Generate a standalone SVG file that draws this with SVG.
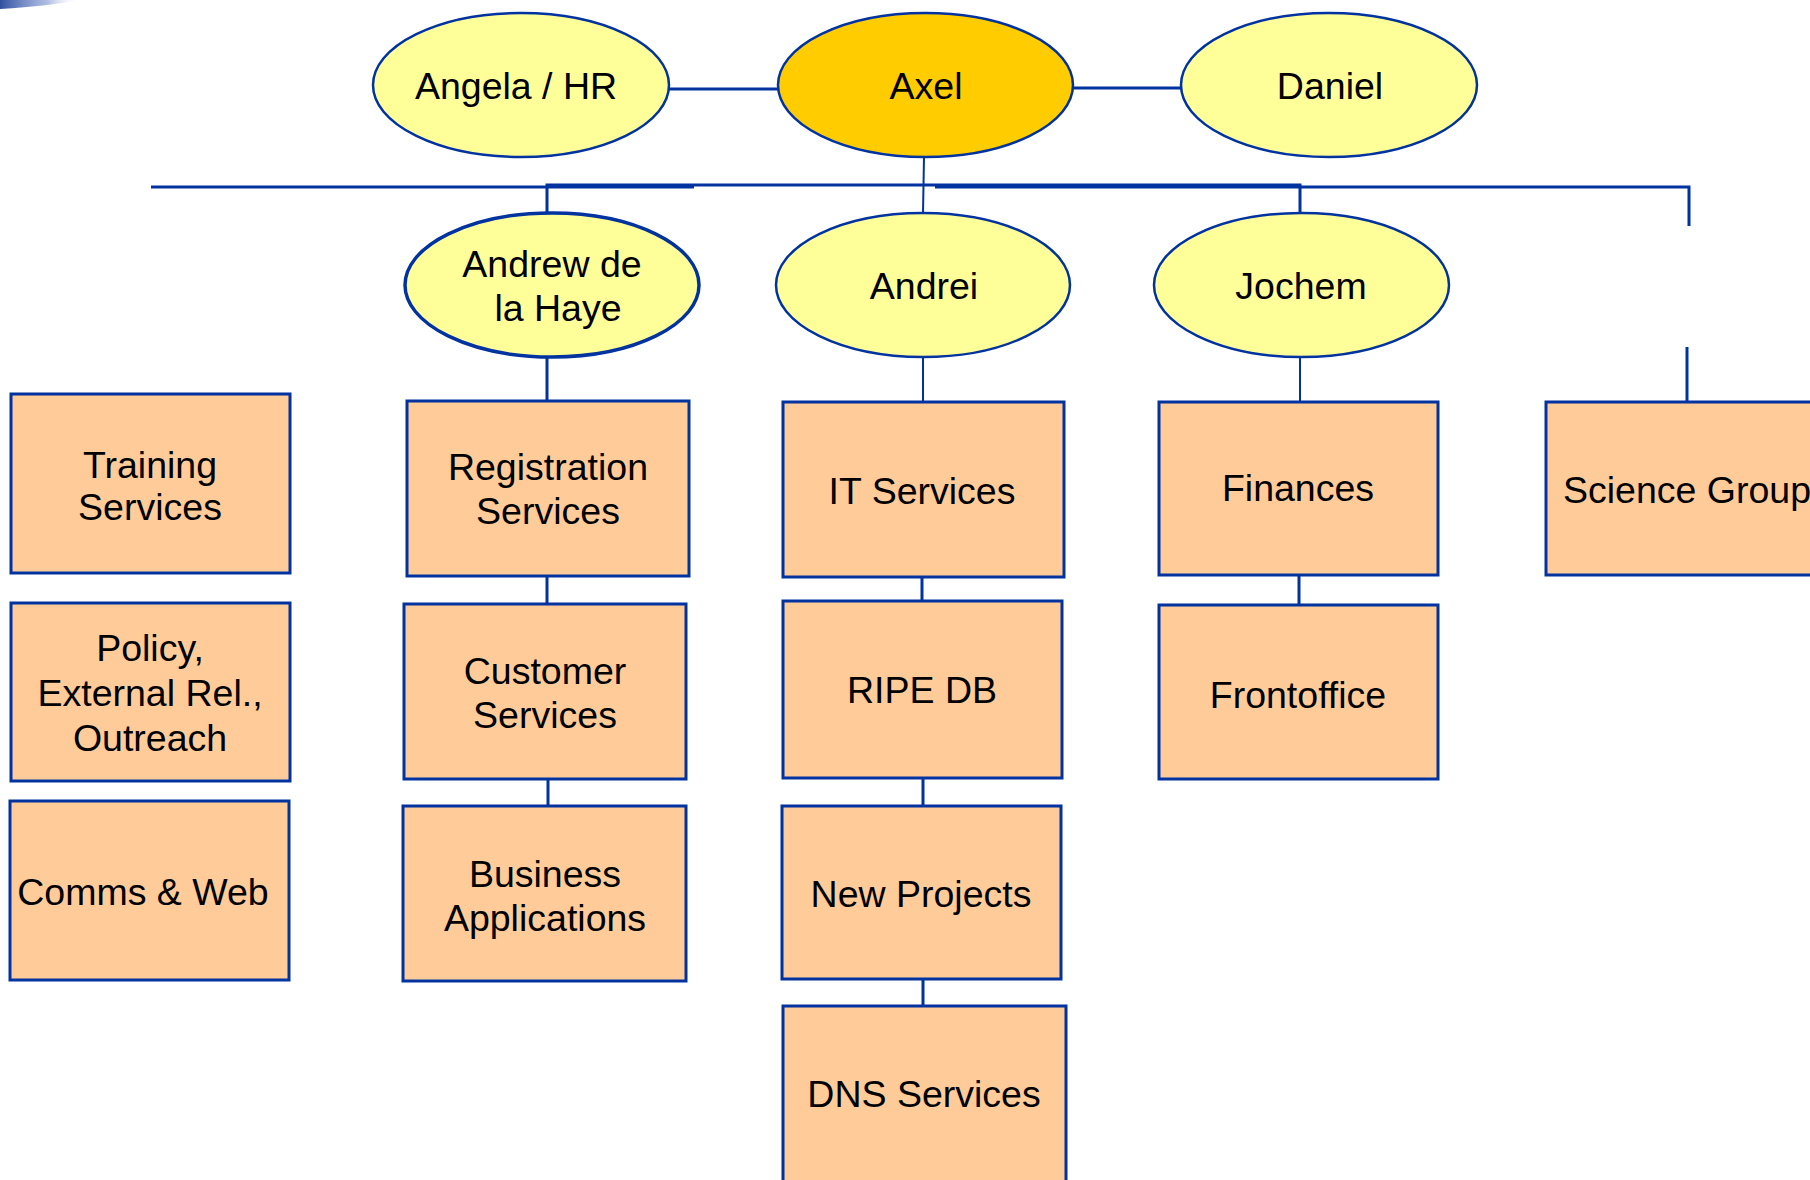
<svg xmlns="http://www.w3.org/2000/svg" width="1810" height="1180" viewBox="0 0 1810 1180">
<style>
.box{fill:#FFCC99;stroke:#0033A0;stroke-width:3}
.ell{fill:#FFFF99;stroke:#0033A0;stroke-width:2.5}
.boss{fill:#FFCC00;stroke:#0033A0;stroke-width:2.5}
.con{fill:none;stroke:#0033A0;stroke-width:3}
.thin{fill:none;stroke:#0033A0;stroke-width:2}
text{font-family:"Liberation Sans",Arial,sans-serif;font-size:37.5px;fill:#000;text-anchor:middle}
</style>
<defs>
<linearGradient id="sw" x1="0" y1="0" x2="1" y2="0">
<stop offset="0" stop-color="#3050A0"/>
<stop offset="0.6" stop-color="#8FA3D8" stop-opacity="0.7"/>
<stop offset="1" stop-color="#FFFFFF" stop-opacity="0"/>
</linearGradient>
</defs>
<rect width="1810" height="1180" fill="#FFFFFF"/>
<path d="M0,0 H80 Q50,6 0,9 Z" fill="url(#sw)"/>

<g id="connectors">
<line class="con" x1="669" y1="89" x2="778" y2="89"/>
<line class="con" x1="1073" y1="88" x2="1181" y2="88"/>
<line class="thin" x1="924" y1="157" x2="923" y2="213"/>
<line class="con" x1="151" y1="187" x2="694" y2="187"/>
<path class="con" d="M547,213 V185 H1300 V213"/>
<path class="con" d="M935,187 H1689 V226"/>
<line class="con" x1="1687" y1="347" x2="1687" y2="402"/>
<line class="con" x1="547" y1="358" x2="547" y2="401"/>
<line class="thin" x1="923" y1="357" x2="923" y2="402"/>
<line class="thin" x1="1300" y1="357" x2="1300" y2="402"/>
<line class="con" x1="547" y1="576" x2="547" y2="604"/>
<line class="con" x1="548" y1="779" x2="548" y2="806"/>
<line class="con" x1="922" y1="577" x2="922" y2="601"/>
<line class="con" x1="923" y1="778" x2="923" y2="806"/>
<line class="con" x1="923" y1="979" x2="923" y2="1006"/>
<line class="con" x1="1299" y1="575" x2="1299" y2="605"/>
</g>

<g id="angela"><ellipse class="ell" cx="521" cy="85" rx="148" ry="72"/><text x="516" y="99">Angela / HR</text></g>
<g id="axel"><ellipse class="boss" cx="925.5" cy="85" rx="147.5" ry="72"/><text x="926" y="99">Axel</text></g>
<g id="daniel"><ellipse class="ell" cx="1329" cy="85" rx="148" ry="72"/><text x="1330" y="99">Daniel</text></g>

<g id="andrew"><ellipse class="ell" cx="552" cy="285" rx="147" ry="72" style="stroke-width:3.5"/><text x="552" y="277">Andrew de</text><text x="558" y="321">la Haye</text></g>
<g id="andrei"><ellipse class="ell" cx="923" cy="285" rx="147" ry="72"/><text x="924" y="299">Andrei</text></g>
<g id="jochem"><ellipse class="ell" cx="1301.5" cy="285" rx="147.5" ry="72"/><text x="1301" y="299">Jochem</text></g>

<g id="training"><rect class="box" x="11" y="394" width="279" height="179"/><text x="150" y="478">Training</text><text x="150" y="520">Services</text></g>
<g id="policy"><rect class="box" x="11" y="603" width="279" height="178"/><text x="150" y="661">Policy,</text><text x="150" y="706">External Rel.,</text><text x="150" y="751">Outreach</text></g>
<g id="comms"><rect class="box" x="10" y="801" width="279" height="179"/><text x="143" y="905">Comms &amp; Web</text></g>

<g id="registration"><rect class="box" x="407" y="401" width="282" height="175"/><text x="548" y="480">Registration</text><text x="548" y="524">Services</text></g>
<g id="customer"><rect class="box" x="404" y="604" width="282" height="175"/><text x="545" y="684">Customer</text><text x="545" y="728">Services</text></g>
<g id="business"><rect class="box" x="403" y="806" width="283" height="175"/><text x="545" y="887">Business</text><text x="545" y="931">Applications</text></g>

<g id="it"><rect class="box" x="783" y="402" width="281" height="175"/><text x="922" y="504">IT Services</text></g>
<g id="ripedb"><rect class="box" x="783" y="601" width="279" height="177"/><text x="922" y="703">RIPE DB</text></g>
<g id="newprojects"><rect class="box" x="782" y="806" width="279" height="173"/><text x="921" y="907">New Projects</text></g>
<g id="dns"><rect class="box" x="783" y="1006" width="283" height="190"/><text x="924" y="1107">DNS Services</text></g>

<g id="finances"><rect class="box" x="1159" y="402" width="279" height="173"/><text x="1298" y="501">Finances</text></g>
<g id="frontoffice"><rect class="box" x="1159" y="605" width="279" height="174"/><text x="1298" y="708">Frontoffice</text></g>

<g id="science"><rect class="box" x="1546" y="402" width="280" height="173"/><text x="1563" y="503" style="text-anchor:start">Science Group</text></g>
</svg>
